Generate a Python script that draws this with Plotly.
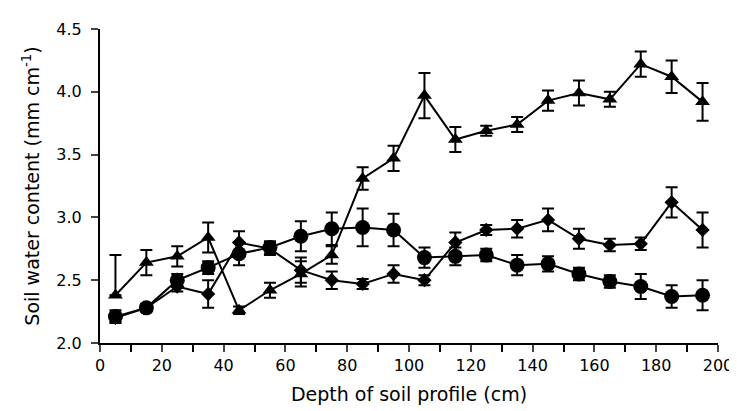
import plotly.graph_objects as go

depth = [5, 15, 25, 35, 45, 55, 65, 75, 85, 95, 105, 115, 125, 135, 145, 155, 165, 175, 185, 195]

tri = [2.38, 2.64, 2.69, 2.84, 2.26, 2.42, 2.55, 2.70, 3.31, 3.47, 3.97, 3.62, 3.69, 3.74, 3.93, 3.99, 3.94, 4.22, 4.12, 3.92]
tri_err = [0.32, 0.10, 0.08, 0.12, 0.03, 0.06, 0.10, 0.07, 0.09, 0.10, 0.18, 0.10, 0.04, 0.06, 0.08, 0.10, 0.06, 0.10, 0.13, 0.15]
tri_errm = [0.0, 0.10, 0.08, 0.12, 0.03, 0.06, 0.10, 0.07, 0.09, 0.10, 0.18, 0.10, 0.04, 0.06, 0.08, 0.10, 0.06, 0.10, 0.13, 0.15]

circ = [2.21, 2.28, 2.50, 2.60, 2.71, 2.76, 2.85, 2.91, 2.92, 2.90, 2.68, 2.69, 2.70, 2.62, 2.63, 2.55, 2.49, 2.45, 2.37, 2.38]
circ_err = [0.05, 0.03, 0.05, 0.05, 0.09, 0.05, 0.12, 0.13, 0.15, 0.13, 0.08, 0.07, 0.05, 0.08, 0.06, 0.05, 0.05, 0.10, 0.09, 0.12]

diam = [2.20, 2.28, 2.45, 2.39, 2.80, 2.75, 2.58, 2.50, 2.47, 2.55, 2.50, 2.80, 2.90, 2.91, 2.98, 2.83, 2.78, 2.79, 3.12, 2.90]
diam_err = [0.03, 0.03, 0.04, 0.11, 0.09, 0.05, 0.10, 0.07, 0.04, 0.07, 0.04, 0.08, 0.04, 0.07, 0.09, 0.08, 0.05, 0.05, 0.12, 0.14]

x_ticks = [0, 20, 40, 60, 80, 100, 120, 140, 160, 180, 200]
y_ticks = [2.0, 2.5, 3.0, 3.5, 4.0, 4.5]

fig = go.Figure()

def add(y, err, sym, size, errm=None):
    e = dict(type="data", array=err, visible=True, color="black", thickness=2, width=6)
    if errm is not None:
        e["symmetric"] = False
        e["arrayminus"] = errm
    fig.add_trace(go.Scatter(
        x=depth, y=y, mode="lines+markers",
        line=dict(color="black", width=2),
        marker=dict(symbol=sym, size=size, color="black"),
        error_y=e, showlegend=False, cliponaxis=False))

add(diam, diam_err, "diamond", 11)
add(circ, circ_err, "circle", 15)
add(tri, tri_err, "triangle-up", 13, tri_errm)

font = dict(family="DejaVu Sans, sans-serif", size=16, color="black")

fig.update_layout(
    width=737, height=411,
    margin=dict(l=92, r=18, t=20, b=76),
    paper_bgcolor="white", plot_bgcolor="white",
    font=font,
    xaxis=dict(range=[0, 200], tickvals=x_ticks, ticks="outside", ticklen=7, tickwidth=2,
               showline=True, linecolor="black", linewidth=2, showgrid=False, zeroline=False,
               minor=dict(dtick=10, tick0=0, ticks="outside", ticklen=7, tickwidth=2, tickcolor="black", showgrid=False),
               title=dict(text="Depth of soil profile (cm)", font=dict(size=19), standoff=13),
               tickfont=dict(size=16)),
    yaxis=dict(range=[2.0, 4.5], tickvals=y_ticks, tickformat=".1f", ticks="outside", ticklen=7, tickwidth=2,
               ticklabelstandoff=6,
               showline=True, linecolor="black", linewidth=2, showgrid=False, zeroline=False,
               title=dict(text="Soil water content (mm cm<sup>-1</sup>)", font=dict(size=19), standoff=12),
               tickfont=dict(size=16)),
)

fig.write_html("out.html")
